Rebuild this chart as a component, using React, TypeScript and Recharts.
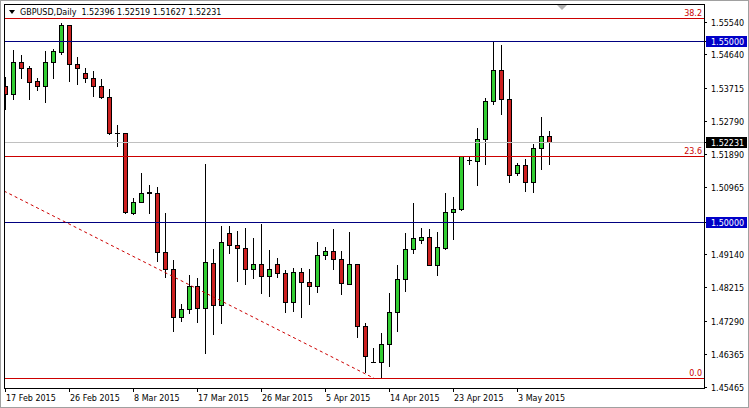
import { ComposedChart, Bar, XAxis, YAxis, ReferenceLine } from "recharts";

const dates = [
  "17 Feb 2015", "18 Feb 2015", "19 Feb 2015", "20 Feb 2015", "22 Feb 2015", "23 Feb 2015", "24 Feb 2015", "25 Feb 2015",
  "26 Feb 2015", "27 Feb 2015", "1 Mar 2015", "2 Mar 2015", "3 Mar 2015", "4 Mar 2015", "5 Mar 2015", "6 Mar 2015",
  "8 Mar 2015", "9 Mar 2015", "10 Mar 2015", "11 Mar 2015", "12 Mar 2015", "13 Mar 2015", "15 Mar 2015", "16 Mar 2015",
  "17 Mar 2015", "18 Mar 2015", "19 Mar 2015", "20 Mar 2015", "22 Mar 2015", "23 Mar 2015", "24 Mar 2015", "25 Mar 2015",
  "26 Mar 2015", "27 Mar 2015", "29 Mar 2015", "30 Mar 2015", "31 Mar 2015", "1 Apr 2015", "2 Apr 2015", "3 Apr 2015",
  "5 Apr 2015", "6 Apr 2015", "7 Apr 2015", "8 Apr 2015", "9 Apr 2015", "10 Apr 2015", "12 Apr 2015", "13 Apr 2015",
  "14 Apr 2015", "15 Apr 2015", "16 Apr 2015", "17 Apr 2015", "19 Apr 2015", "20 Apr 2015", "21 Apr 2015", "22 Apr 2015",
  "23 Apr 2015", "24 Apr 2015", "26 Apr 2015", "27 Apr 2015", "28 Apr 2015", "29 Apr 2015", "30 Apr 2015", "1 May 2015",
  "3 May 2015", "4 May 2015", "5 May 2015", "6 May 2015", "7 May 2015",
];

const opens = [
  1.53765, 1.53536, 1.5442, 1.54254, 1.53903, 1.53774, 1.5442, 1.54712, 1.55449, 1.54364,
  1.54116, 1.53978, 1.53774, 1.5347, 1.5246, 1.5246, 1.50269, 1.50572, 1.50821, 1.50804,
  1.49192, 1.48706, 1.47382, 1.47602, 1.48245, 1.4763, 1.48872, 1.47721, 1.497, 1.49369,
  1.49286, 1.48706, 1.48844, 1.4853, 1.48844, 1.48596, 1.47812, 1.48624, 1.48348, 1.48254,
  1.49093, 1.49203, 1.48982, 1.48301, 1.48844, 1.4715, 1.46156, 1.4616, 1.46636, 1.47536,
  1.4843, 1.49258, 1.49515, 1.4959, 1.48833, 1.49294, 1.50279, 1.50362, 1.51723, 1.51704,
  1.52294, 1.53351, 1.54199, 1.53398, 1.51356, 1.51577, 1.51124, 1.52046, 1.52396,
];

const highs = [
  1.54022, 1.54759, 1.54621, 1.54317, 1.53978, 1.54731, 1.54778, 1.55496, 1.5546, 1.54558,
  1.54254, 1.54188, 1.5395, 1.53683, 1.52689, 1.52477, 1.50666, 1.51373, 1.51033, 1.50986,
  1.50269, 1.48963, 1.47749, 1.48549, 1.48458, 1.51613, 1.49258, 1.49901, 1.49901, 1.49772,
  1.49838, 1.49562, 1.49957, 1.49239, 1.4901, 1.48687, 1.48734, 1.48734, 1.48706, 1.49452,
  1.4933, 1.49819, 1.49203, 1.49744, 1.4886, 1.47216, 1.46526, 1.46957, 1.48044, 1.48825,
  1.497, 1.50545, 1.49838, 1.4981, 1.49728, 1.50821, 1.50694, 1.51845, 1.51845, 1.52615,
  1.53426, 1.54972, 1.54897, 1.53959, 1.51632, 1.51742, 1.52156, 1.52918, 1.52519,
];

const lows = [
  1.53131, 1.53398, 1.53978, 1.53398, 1.53655, 1.53316, 1.53978, 1.5464, 1.53912, 1.53812,
  1.53884, 1.53498, 1.53426, 1.5245, 1.52118, 1.50269, 1.50233, 1.5056, 1.50269, 1.48944,
  1.48502, 1.47012, 1.47288, 1.47492, 1.4726, 1.46388, 1.46921, 1.47233, 1.49165, 1.48392,
  1.48301, 1.48458, 1.48061, 1.47978, 1.48502, 1.47536, 1.47564, 1.47398, 1.47749, 1.48088,
  1.48982, 1.48706, 1.48025, 1.4829, 1.46846, 1.4588, 1.4614, 1.45698, 1.46037, 1.47012,
  1.48116, 1.49165, 1.49441, 1.48817, 1.48549, 1.49274, 1.49551, 1.5035, 1.51613, 1.51041,
  1.51613, 1.53269, 1.52993, 1.51116, 1.51317, 1.50876, 1.50848, 1.51483, 1.51627,
];

const closes = [
  1.53545, 1.5442, 1.54254, 1.53868, 1.53774, 1.5442, 1.54731, 1.55449, 1.54364, 1.54254,
  1.53978, 1.53774, 1.5347, 1.5246, 1.5247, 1.50296, 1.50572, 1.50821, 1.5083, 1.49192,
  1.48706, 1.47398, 1.47602, 1.48245, 1.4763, 1.489, 1.47721, 1.49452, 1.49377, 1.49286,
  1.48706, 1.48844, 1.4853, 1.48706, 1.48596, 1.47812, 1.48624, 1.48348, 1.48254, 1.49093,
  1.49203, 1.48982, 1.4832, 1.48844, 1.4715, 1.46322, 1.4616, 1.46636, 1.47536, 1.4843,
  1.49258, 1.49562, 1.4959, 1.48833, 1.49314, 1.50288, 1.50371, 1.51833, 1.5173, 1.52294,
  1.53351, 1.54199, 1.53398, 1.51301, 1.51585, 1.51124, 1.52046, 1.52385, 1.52231,
];

const priceTicks = [1.5554, 1.5464, 1.53715, 1.5279, 1.5189, 1.50965, 1.4914, 1.48215, 1.4729, 1.46365, 1.45465];
const dateTicks = [0, 8, 16, 24, 32, 40, 48, 56, 64];
const fibLevels = [
  { name: "38.2", price: 1.55634 },
  { name: "23.6", price: 1.51833 },
  { name: "0.0", price: 1.45698 },
];
const roundLevels = [1.55, 1.5];
const lastPrice = 1.52231;
const trendLine = [
  { x: -0.16, y: 1.50867 },
  { x: 46.1, y: 1.45698 },
];
const header = "GBPUSD,Daily  1.52396 1.52519 1.51627 1.52231";

const FONT = "DejaVu Sans, Tahoma, sans-serif";
const BULL = "#32cd32";
const BEAR = "#cc2020";
const FIB = "#cc0000";
const LEVEL = "#000080";

const data = dates.map((d, i) => ({
  i,
  date: d,
  open: opens[i],
  high: highs[i],
  low: lows[i],
  close: closes[i],
  range: [lows[i], highs[i]],
}));

const markers = [
  ...roundLevels.map((p) => ({ price: p, bg: "#0000c8" })),
  { price: lastPrice, bg: "#000000" },
];

const Candle = (props: any) => {
  const { x, y, width, height, payload } = props;
  if (x == null || y == null) return null;
  const { open, close, high, low } = payload;
  const top0 = Math.min(y, y + height);
  const h = Math.abs(height);
  const cx = Math.round(x + width / 2);
  const py = (p: number) => top0 + ((high - p) / (high - low)) * h;
  const bTop = Math.round(py(Math.max(open, close)));
  const bBot = Math.round(py(Math.min(open, close)));
  return (
    <g>
      <line x1={cx + 0.5} x2={cx + 0.5} y1={Math.round(top0)} y2={Math.round(top0 + h) + 1} stroke="#000" />
      {bBot - bTop < 1 ? (
        <line x1={cx - 2} x2={cx + 3} y1={bTop + 0.5} y2={bTop + 0.5} stroke="#000" />
      ) : (
        <rect
          x={cx - 1.5}
          y={bTop + 0.5}
          width={4}
          height={bBot - bTop}
          fill={close >= open ? BULL : BEAR}
          stroke="#000"
        />
      )}
    </g>
  );
};

const CrispLine = (props: any) => {
  const { x1, y1, x2, y2, stroke, strokeDasharray } = props;
  const flat = Math.abs(y1 - y2) < 0.01;
  return (
    <line
      x1={x1}
      x2={x2}
      y1={flat ? Math.round(y1) + 0.5 : y1}
      y2={flat ? Math.round(y2) + 0.5 : y2}
      stroke={stroke}
      strokeDasharray={strokeDasharray}
    />
  );
};

const FibLabel = (props: any) => {
  const { viewBox, text } = props;
  if (!viewBox) return null;
  return (
    <text
      x={viewBox.x + viewBox.width - 2}
      y={Math.round(viewBox.y) - 2}
      textAnchor="end"
      fill={FIB}
      fontSize={8}
      fontFamily={FONT}
    >
      {text}
    </text>
  );
};

const PriceTick = (props: any) => {
  const { x, y, payload } = props;
  const v = payload.value as number;
  const mark = markers.find((m) => m.price === v);
  const yy = Math.round(y);
  return (
    <g>
      <line x1={x} x2={x + 3} y1={yy + 0.5} y2={yy + 0.5} stroke="#000" />
      {mark && <rect x={x + 2} y={yy - 5} width={41} height={11} fill={mark.bg} />}
      <text x={x + 7} y={yy + 3.5} fontSize={8} fontFamily={FONT} fill={mark ? "#fff" : "#000"}>
        {v.toFixed(5)}
      </text>
    </g>
  );
};

const DateTick = (props: any) => {
  const { x, y, payload } = props;
  const xx = Math.round(x);
  return (
    <g>
      <line x1={xx + 0.5} x2={xx + 0.5} y1={y} y2={y + 4} stroke="#000" />
      <text x={xx + 1} y={y + 13} fontSize={8} fontFamily={FONT} fill="#000">
        {dates[payload.value]}
      </text>
    </g>
  );
};

export default function App() {
  return (
    <div style={{ position: "absolute", left: 0, top: 0, width: 749, height: 408, background: "#fff" }}>
      <ComposedChart width={749} height={408} data={data} margin={{ top: 4, right: 0, bottom: 0, left: 4 }}>
        <XAxis
          dataKey="i"
          type="number"
          domain={[-0.16, 87.34]}
          allowDataOverflow
          ticks={dateTicks}
          interval={0}
          height={20}
          axisLine={false}
          tickLine={false}
          tickSize={0}
          tickMargin={0}
          tick={<DateTick />}
        />
        <YAxis
          type="number"
          orientation="right"
          domain={[1.4543, 1.5603]}
          allowDataOverflow
          ticks={[...priceTicks, ...markers.map((m) => m.price)]}
          interval={0}
          width={45}
          axisLine={false}
          tickLine={false}
          tickSize={0}
          tickMargin={0}
          tick={<PriceTick />}
        />
        <ReferenceLine y={lastPrice} stroke="#c0c0c0" shape={<CrispLine />} />
        {roundLevels.map((p) => (
          <ReferenceLine key={p} y={p} stroke={LEVEL} shape={<CrispLine />} />
        ))}
        {fibLevels.map((f) => (
          <ReferenceLine key={f.name} y={f.price} stroke={FIB} shape={<CrispLine />} label={<FibLabel text={f.name} />} />
        ))}
        <ReferenceLine segment={trendLine} stroke={FIB} strokeDasharray="3 3" ifOverflow="visible" />
        <Bar dataKey="range" shape={<Candle />} isAnimationActive={false} />
      </ComposedChart>
      <svg width={749} height={408} style={{ position: "absolute", left: 0, top: 0, pointerEvents: "none" }}>
        <rect x={0.5} y={0.5} width={748} height={407} fill="none" stroke="#a0a0a0" />
        <rect x={4.5} y={4.5} width={700} height={384} fill="none" stroke="#000" />
        <polygon points="9,10 15,10 12,14" fill="#000" />
        <text x={20} y={15} fontSize={8} fontFamily={FONT} fill="#000" style={{ whiteSpace: "pre" }}>
          {header}
        </text>
        <polygon points="557,5 567,5 562,10" fill="#b0b0b0" />
      </svg>
    </div>
  );
}
